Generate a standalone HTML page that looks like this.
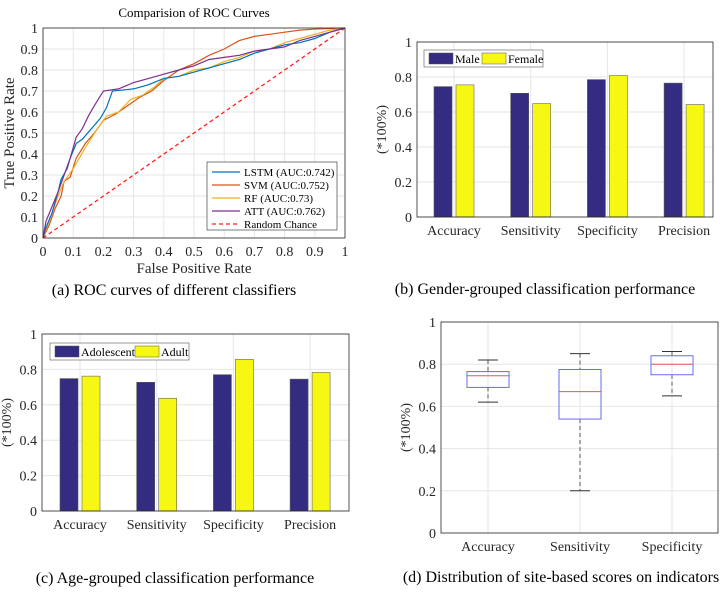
<!DOCTYPE html>
<html><head><meta charset="utf-8"><style>
html,body{margin:0;padding:0;background:#fff;width:728px;height:595px;overflow:hidden}
svg{display:block;font-family:"Liberation Serif",serif}
</style></head><body>
<svg id="s" width="728" height="595"></svg>
<script>
const rocX_LSTM=[0,0.01,0.03,0.05,0.06,0.08,0.09,0.11,0.13,0.16,0.19,0.21,0.23,0.3,0.35,0.4,0.45,0.5,0.55,0.6,0.65,0.7,0.75,0.8,0.85,0.9,0.95,1];
const rocY_LSTM=[0,0.05,0.12,0.22,0.28,0.33,0.38,0.45,0.47,0.52,0.57,0.62,0.70,0.71,0.73,0.76,0.77,0.79,0.81,0.83,0.85,0.88,0.9,0.92,0.93,0.95,0.98,1];
const rocX_SVM=[0,0.02,0.04,0.06,0.07,0.09,0.11,0.14,0.17,0.2,0.24,0.28,0.32,0.36,0.4,0.45,0.5,0.55,0.6,0.65,0.7,0.75,0.8,0.85,0.9,1];
const rocY_SVM=[0,0.06,0.14,0.2,0.27,0.29,0.38,0.45,0.5,0.56,0.59,0.63,0.67,0.7,0.75,0.8,0.83,0.87,0.9,0.94,0.96,0.97,0.98,0.99,0.995,1];
const rocX_RF=[0,0.02,0.05,0.07,0.1,0.14,0.18,0.21,0.25,0.29,0.33,0.37,0.4,0.45,0.5,0.55,0.6,0.65,0.7,0.75,0.8,0.85,0.9,0.95,1];
const rocY_RF=[0,0.08,0.2,0.27,0.33,0.43,0.52,0.58,0.6,0.66,0.68,0.72,0.76,0.77,0.8,0.81,0.84,0.86,0.89,0.9,0.93,0.95,0.97,0.99,1];
const rocX_ATT=[0,0.01,0.03,0.05,0.07,0.09,0.11,0.13,0.15,0.17,0.2,0.25,0.3,0.35,0.4,0.45,0.5,0.55,0.6,0.65,0.7,0.75,0.8,0.85,0.9,0.95,1];
const rocY_ATT=[0,0.08,0.15,0.22,0.3,0.38,0.48,0.52,0.58,0.63,0.7,0.71,0.74,0.76,0.78,0.8,0.82,0.85,0.86,0.87,0.89,0.9,0.91,0.94,0.96,0.98,1];
const rocTicks=["0","0.1","0.2","0.3","0.4","0.5","0.6","0.7","0.8","0.9","1"];
const categories=["Accuracy","Sensitivity","Specificity","Precision"];
const male=[0.745,0.707,0.785,0.765];
const female=[0.755,0.648,0.808,0.643];
const adolescent=[0.748,0.727,0.77,0.745];
const adult=[0.762,0.637,0.857,0.783];
const barTicks=["0","0.2","0.4","0.6","0.8","1"];
const boxCats=["Accuracy","Sensitivity","Specificity"];
const boxMin=[0.62,0.2,0.65];
const boxQ1=[0.69,0.54,0.75];
const boxMed=[0.745,0.67,0.80];
const boxQ3=[0.765,0.775,0.84];
const boxMax=[0.82,0.85,0.86];

const S=document.getElementById('s');
const NS='http://www.w3.org/2000/svg';
function el(tag,a,name,txt){const e=document.createElementNS(NS,tag);for(const k in a)e.setAttribute(k,a[k]);


if(txt!==undefined)e.textContent=txt;S.appendChild(e);return e;}
function axes(x0,x1,y0,y1,pre,yt,yv,xt,xp,fs){
  el('rect',{x:x0,y:y0,width:x1-x0,height:y1-y0,fill:'#fff',stroke:'none'},pre+'-plot-area');
  yv.forEach((v,i)=>{const y=y1-(y1-y0)*v;
    el('line',{x1:x0,x2:x1,y1:y,y2:y,stroke:'#e6e6e6','stroke-width':1},pre+'-grid-y');
    el('text',{x:x0-5,y:y+5,'text-anchor':'end','font-size':fs,fill:'#262626'},pre+'-y-tick',yt[i]);});
  xp.forEach((x,i)=>{el('line',{x1:x,x2:x,y1:y0,y2:y1,stroke:'#e6e6e6','stroke-width':1},pre+'-grid-x');
    el('text',{x:x,y:y1+18,'text-anchor':'middle','font-size':fs,fill:'#262626'},pre+'-x-tick',xt[i]);});
}
function frame(x0,x1,y0,y1,pre){el('rect',{x:x0,y:y0,width:x1-x0,height:y1-y0,fill:'none',stroke:'#262626','stroke-width':0.8},pre+'-axes-box');}

// (a) ROC
(function(){const x0=43,x1=345,y0=28,y1=238;
 const fx=v=>x0+(x1-x0)*v, fy=v=>y1-(y1-y0)*v;
 const tv=rocTicks.map(Number);
 axes(x0,x1,y0,y1,'roc',rocTicks,tv,rocTicks,tv.map(fx),14);
 el('line',{x1:fx(0),y1:fy(0),x2:fx(1),y2:fy(1),stroke:'#ff2020','stroke-width':1.3,'stroke-dasharray':'4,3'},'random-chance-line');
 const ser=[[rocX_SVM,rocY_SVM,'#d95319','svm-curve'],[rocX_RF,rocY_RF,'#edb120','rf-curve'],[rocX_LSTM,rocY_LSTM,'#0072bd','lstm-curve'],[rocX_ATT,rocY_ATT,'#7e2f8e','att-curve']];
 ser.forEach(s=>{el('polyline',{points:s[0].map((x,i)=>fx(x)+','+fy(s[1][i])).join(' '),fill:'none',stroke:s[2],'stroke-width':1.2},s[3]);});
 frame(x0,x1,y0,y1,'roc');
 el('text',{x:194,y:17,'text-anchor':'middle','font-size':13,fill:'#000'},'roc-title','Comparision of ROC Curves');
 el('text',{x:194,y:273,'text-anchor':'middle','font-size':15,fill:'#262626'},'roc-x-axis-title','False Positive Rate');
 el('text',{x:14,y:133,'text-anchor':'middle','font-size':15,fill:'#262626',transform:'rotate(-90 14 133)'},'roc-y-axis-title','True Positive Rate');
 el('rect',{x:207,y:162,width:130,height:68,fill:'#fff',stroke:'#262626','stroke-width':0.6},'roc-legend');
 const L=[['LSTM (AUC:0.742)','#0072bd',0],['SVM (AUC:0.752)','#d95319',0],['RF (AUC:0.73)','#edb120',0],['ATT (AUC:0.762)','#7e2f8e',0],['Random Chance','#ff2020',1]];
 L.forEach((l,i)=>{const y=172+i*13;
  el('line',{x1:212,x2:240,y1:y,y2:y,stroke:l[1],'stroke-width':1.2,'stroke-dasharray':l[2]?'4,3':'none'},'legend-line');
  el('text',{x:244,y:y+4,'font-size':11,fill:'#000'},'legend-entry',l[0]);});
 el('text',{x:174,y:295,'text-anchor':'middle','font-size':16,fill:'#000'},'caption-a','(a) ROC curves of different classifiers');
})();

function barChart(x0,x1,y0,y1,c0,sp,A,B,pre,lg,names){
 const fy=v=>y1-(y1-y0)*v;
 const xp=categories.map((c,i)=>c0+sp*i);
 axes(x0,x1,y0,y1,pre,barTicks,barTicks.map(Number),categories,xp,14);
 A.forEach((v,i)=>el('rect',{x:xp[i]-20,y:fy(v),width:18,height:y1-fy(v),fill:'#332c80',stroke:'#555','stroke-width':0.6},pre+'-bar-'+names[0].toLowerCase()));
 B.forEach((v,i)=>el('rect',{x:xp[i]+2,y:fy(v),width:18,height:y1-fy(v),fill:'#f7f714',stroke:'#666','stroke-width':0.6},pre+'-bar-'+names[1].toLowerCase()));
 frame(x0,x1,y0,y1,pre);
 el('rect',{x:lg[0],y:lg[1],width:lg[2],height:17,fill:'#fff',stroke:'#555','stroke-width':0.6},pre+'-legend');
 el('rect',{x:lg[0]+5,y:lg[1]+3,width:24,height:11,fill:'#332c80',stroke:'#555','stroke-width':0.5},'legend-swatch');
 el('text',{x:lg[0]+31,y:lg[1]+13,'font-size':12,fill:'#000'},'legend-entry',names[0]);
 el('rect',{x:lg[3],y:lg[1]+3,width:24,height:11,fill:'#f7f714',stroke:'#555','stroke-width':0.5},'legend-swatch');
 el('text',{x:lg[3]+26,y:lg[1]+13,'font-size':12,fill:'#000'},'legend-entry',names[1]);
 const cy=(y0+y1)/2;
 el('text',{x:x0-31,y:cy,'text-anchor':'middle','font-size':14,fill:'#262626',transform:`rotate(-90 ${x0-31} ${cy})`},pre+'-y-axis-title','(*100%)');
}
barChart(417,713,42,217,454,76.7,male,female,'gender',[424,50,119,482],['Male','Female']);
el('text',{x:545,y:294,'text-anchor':'middle','font-size':16,fill:'#000'},'caption-b','(b) Gender-grouped classification performance');
barChart(42,349,334,511,80,76.7,adolescent,adult,'age',[50,343,139,135],['Adolescent','Adult']);
el('text',{x:175,y:583,'text-anchor':'middle','font-size':16,fill:'#000'},'caption-c','(c) Age-grouped classification performance');

// (d) boxplot
(function(){const x0=441,x1=718,y0=322,y1=533;
 const fy=v=>y1-(y1-y0)*v;
 const xp=boxCats.map((c,i)=>488+92*i);
 axes(x0,x1,y0,y1,'box',barTicks,barTicks.map(Number),boxCats,xp,14);
 xp.forEach((x,i)=>{
  el('line',{x1:x,x2:x,y1:fy(boxMax[i]),y2:fy(boxQ3[i]),stroke:'#555','stroke-dasharray':'4,3','stroke-width':1},'whisker-upper');
  el('line',{x1:x,x2:x,y1:fy(boxQ1[i]),y2:fy(boxMin[i]),stroke:'#555','stroke-dasharray':'4,3','stroke-width':1},'whisker-lower');
  el('line',{x1:x-10,x2:x+10,y1:fy(boxMax[i]),y2:fy(boxMax[i]),stroke:'#333','stroke-width':1},'whisker-cap-max');
  el('line',{x1:x-10,x2:x+10,y1:fy(boxMin[i]),y2:fy(boxMin[i]),stroke:'#333','stroke-width':1},'whisker-cap-min');
  el('rect',{x:x-21,y:fy(boxQ3[i]),width:42,height:fy(boxQ1[i])-fy(boxQ3[i]),fill:'none',stroke:'#6a6af0','stroke-width':1},'box-'+boxCats[i].toLowerCase());
  el('line',{x1:x-21,x2:x+21,y1:fy(boxMed[i]),y2:fy(boxMed[i]),stroke:'#f05050','stroke-width':1},'median-line');
 });
 frame(x0,x1,y0,y1,'box');
 const cy=(y0+y1)/2;
 el('text',{x:410,y:cy,'text-anchor':'middle','font-size':14,fill:'#262626',transform:`rotate(-90 410 ${cy})`},'box-y-axis-title','(*100%)');
 el('text',{x:561,y:582,'text-anchor':'middle','font-size':16,fill:'#000'},'caption-d','(d) Distribution of site-based scores on indicators');
})();
</script>
</body></html>
